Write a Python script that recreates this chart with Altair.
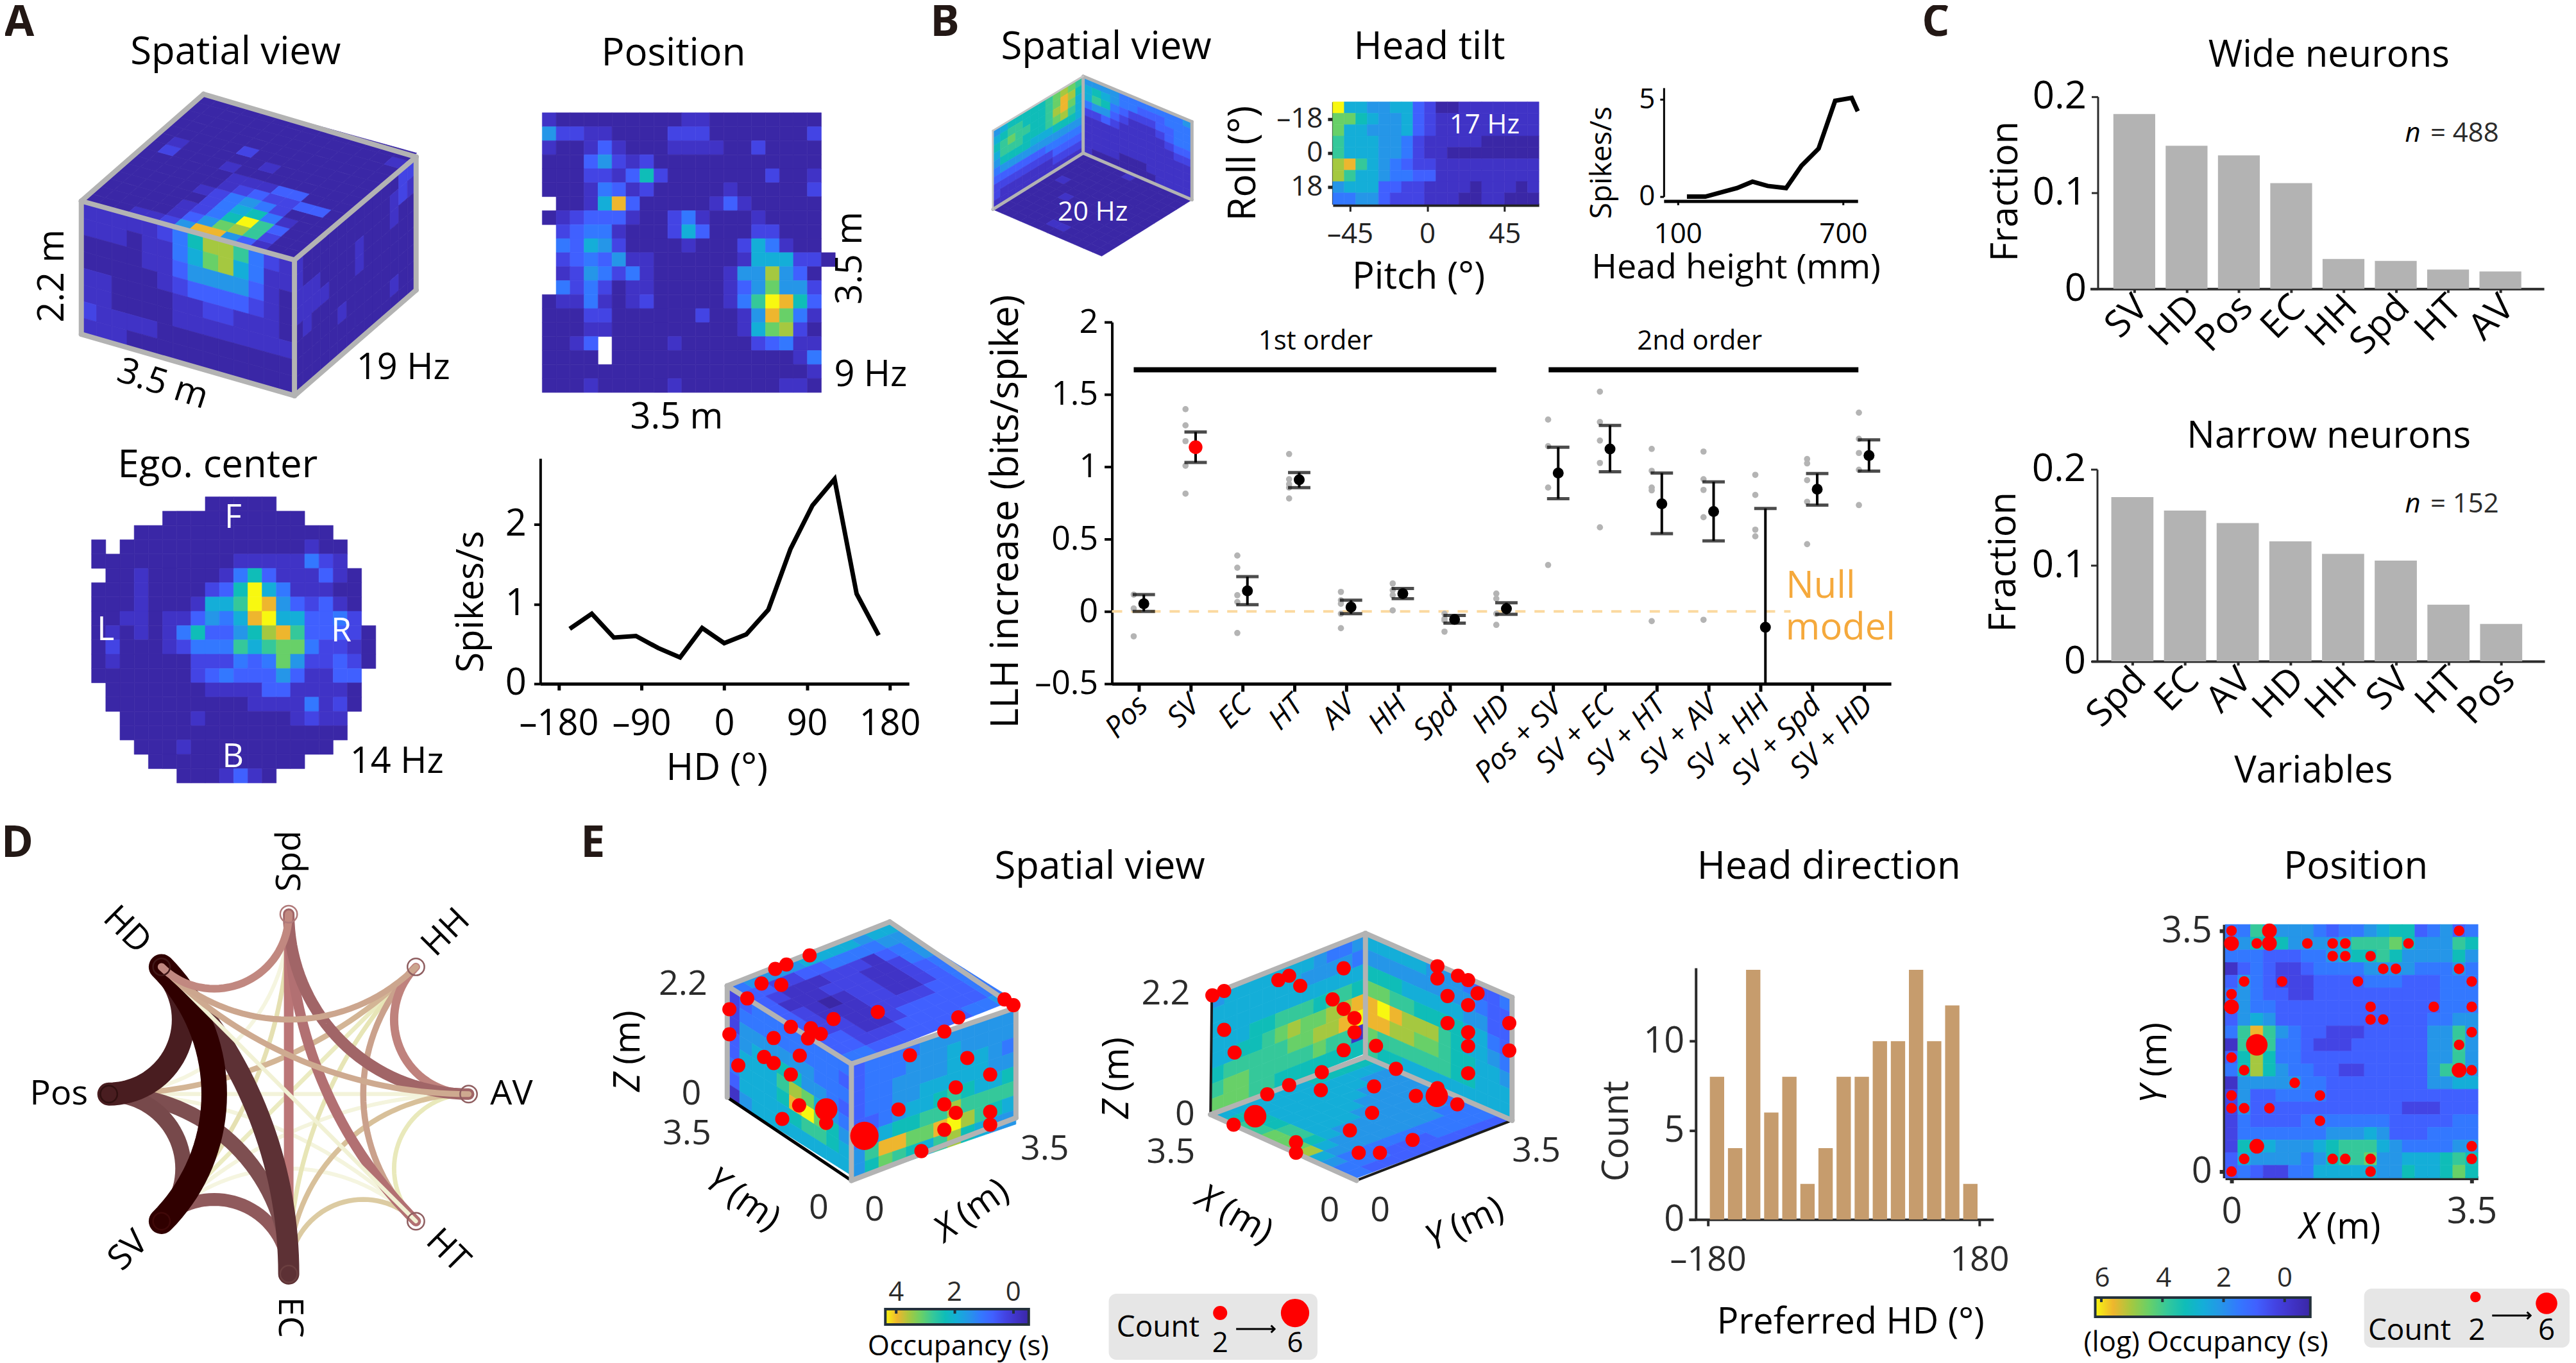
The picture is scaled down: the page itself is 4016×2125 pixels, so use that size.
import math
import altair as alt

W, H = 4008, 2117
FONT = "Open Sans"
PARULA_D = list(range(13))
PARULA_R = ["#3a27a6", "#4033c6", "#4344e4", "#4060ff", "#3378ff", "#2596e8", "#14aed8",
            "#0fbdb8", "#35c89a", "#68d068", "#a5c840", "#eeb62e", "#f8f810"]
PARULA = alt.Scale(domain=PARULA_D, range=PARULA_R, interpolate="rgb")

# ---------- heatmap values (hex level per cell, '.' = no data) ----------
pos_a = ["10000000001100000000", "52211000022200000002", "10013100011110020000", "00035212000000000000",
         "00022137200000002001", "00014312000001000002", ".0016b30000013100000", "01233310024100010000",
         ".2344100026300022000", ".4365200001000264100", ".23435110000001666220", ".125424100000155a530",
         ".424201100000135 9552".replace(" ", ""), "0114101200000148cb73", "0002200000020015b941", "00011000000000169a20",
         "0013.000010000023411", "0000.000000000000014", "00000000000000000001", "00010000010000000110"]
ego = ["........00000.......", ".....0000000000.....", "...00000000000000...", "0.0000000000000100..",
       "000000000011111421..", ".001000001473111310.", "00010000237c6411100.", "00010001668cb532310.",
       "001101135 46bc663342".replace(" ", "")[:19] + ".", "01010147335 7ab83332".replace(" ", "")[:19] + "0", "02000124448689942210", "01000002224349522320",
       "0000000234333531133.", ".000000011113311110.", ".000000000011114120.", "..00000100000012 11..".replace(" ", ""),
       "..0000000000000000..", "...00010000000000...", "....00000000000.....", "......0001310......."]
tilt = ["c66556632001111111", "997655632111111111", "966555632111111111", "866655421111100000",
        "866655421100000000", "ab8654322111111111", "a86654433111111111", "566633221111011101", "445532221110011000"]
pos_e = ["44865554344567734534", "55777555568889755587", "44433344567787555575", "13432234444555544454",
         "35432223333444333444", "45433223333333333444", "45443333333333333444", "35653333333333334455",
         "48b85433222333335585", "18a84432223333335585", "37a74433333333335585", "47a75443322333335885",
         "15555544333333335566", "25334444333333333333", "25333333333333222333", "24333344444443333344",
         "24444444555653334444", "27665556788865444455", "36555545788955666787", "34322446666655766797"]

cube_a_left = ["1111124 7aa8421".replace(" ", ""), "11101146 9a6411".replace(" ", ""), "00001135555310", "00000123333210",
               "11000011221110", "11000011111111", "21111000000000", "11100000000000"]
cube_a_right = ["10000000000022", "10000000000121", "11100001000100", "11110001000000",
                "01000000000000", "00000100000000", "00000000000100", "00000000000000"]
cube_a_top = ["0001125bb53100", "0000013 59a8200".replace(" ", ""), "000001247c8300", "00000024674100",
              "00000124542000", "00000012322330", "00000011133000", "02000100000000",
              "01000001000000", "00000200000000", "00000000000000", "00000000000000",
              "00000000000001", "00000000000000"]
cube_b_left = ["56777778 9a98".replace(" ", ""), "678877789ba7", "78988778ab96", "688877789a86",
               "577776667776", "455555555555", "333333344444", "222222223333", "211111112222", "111111111111"]
cube_b_right = ["555544444445", "676544333444", "687432223344", "455321112344",
                "223211111233", "111111111122", "111111111111", "111111111111", "111100011111", "100000001111"]
cube_b_floor = ["000000000000", "000010000000", "000000000000", "000000100000", "000000000000", "100000000010",
                "000000000010", "000000000000", "000000000000", "000000000000", "000000000000", "000000000000"]
cube_e1_left = ["2344444444", "2444444443", "2555555444", "3566775543",
                "36668a9654", "46667bc975", "3666678876", "1566666666"]
cube_e1_right = ["344445555555", "344455565555", "344555566654", "344556666655",
                 "334566787667", "44677 88a8888".replace(" ", ""), "58bb99bca876", "5798768a7655"]
cube_e1_top = ["455556666566", "332233444455", "321112221345", "311122211245", "321012211234",
               "321112211234", "322112222334", "332112333334", "332223333334", "443333333445"]
cube_e2_left = ["566666665445", "666666655554", "666666666666", "666778887887",
                "667789a99aab", "78888899aabc", "899888889881", "999887777777"]
cube_e2_right = ["666665554334", "555555555433", "777666665533", "998877776643",
                 "bcbaaa876654", "bbaa99877665", "988888877666", "877666666666"]
cube_e2_floor = ["7777666666", "6666666677", "5566666678", "5556666678", "5555666689", "5555566689",
                 "5555555679", "455555556a", "4455555556", "4444444445", "4444333444", "3333333334"]

# ---------- line / scatter values ----------
hd_x = [-168, -144, -120, -96, -72, -48, -24, 0, 24, 48, 72, 96, 120, 144, 168]
hd_y = [.69, .88, .58, .60, .45, .33, .70, .51, .62, .93, 1.69, 2.24, 2.57, 1.13, .61]
hh_x = [133, 200, 270, 315, 371, 426, 493, 549, 611, 671, 731, 753]
hh_y = [0, 0, .27, .44, .77, .55, .44, 1.59, 2.47, 4.93, 5.08, 4.39]

model_names = ["Pos", "SV", "EC", "HT", "AV", "HH", "Spd", "HD", "Pos + SV", "SV + EC", "SV + HT",
               "SV + AV", "SV + HH", "SV + Spd", "SV + HD"]
model_mean = [.053, 1.135, .142, .91, .03, .123, -.056, .019, .956, 1.123, .744, .69, -.11, .844, 1.077]
model_hi = [.116, 1.24, .24, .96, .077, .158, -.028, .06, 1.135, 1.286, .956, .895, .712, .953, 1.186]
model_lo = [0, 1.03, .046, .856, -.016, .088, -.081, -.02, .779, .965, .537, .488, -.5, .735, .97]
model_pts = [[.116, .02, -.172], [1.398, 1.286, 1.177, 1.007, .814], [.386, .302, .112, .065, -.149],
             [1.088, .914, .879, .856, .781], [.135, .077, .053, -.016, -.116], [.193, .147, .112, .007],
             [-.016, -.051, -.063, -.14], [.123, .088, -.016, -.093], [1.326, 1.142, .856, .321],
             [1.519, 1.309, 1.181, 1.026, .581], [1.123, .972, .856, .837, -.067],
             [1.105, .914, .84, .651, -.058], [.944, .805, .565, .519], [1.053, 1.023, .907, .758, .465],
             [1.374, 1.193, 1.095, .979, .735]]

wide_names = ["SV", "HD", "Pos", "EC", "HH", "Spd", "HT", "AV"]
wide_vals = [.182, .149, .139, .110, .031, .029, .020, .018]
narrow_names = ["Spd", "EC", "AV", "HD", "HH", "SV", "HT", "Pos"]
narrow_vals = [.171, .157, .144, .125, .112, .105, .059, .039]

hist_counts = [8, 4, 14, 6, 8, 2, 4, 8, 8, 10, 10, 14, 10, 12, 2]
hist_centers = [-168, -144, -120, -96, -72, -48, -24, 0, 24, 48, 72, 96, 120, 144, 168]

graph_nodes = ["Spd", "HH", "AV", "HT", "EC", "SV", "Pos", "HD"]
# listed in drawing order, last on top
graph_edges = [("Pos", "Spd", .02), ("SV", "HT", .02), ("Pos", "HT", .03), ("SV", "AV", .03), ("Pos", "AV", .04),
               ("HH", "SV", .12), ("AV", "HT", .14), ("HH", "EC", .16), ("Spd", "SV", .18), ("HT", "EC", .26),
               ("AV", "EC", .30), ("HH", "Pos", .36), ("HH", "HT", .46), ("HH", "AV", .56), ("Spd", "EC", .60),
               ("Spd", "HT", .62), ("Spd", "AV", .66), ("SV", "EC", .70), ("Pos", "EC", .74), ("Pos", "SV", .76),
               ("EC", "HD", .85), ("Pos", "HD", .92), ("HD", "SV", 1.0),
               ("HD", "HT", .06), ("AV", "HD", .42), ("HH", "HD", .44), ("Spd", "HD", .54)]
graph_node_color = ["#b07a7a", "#8f5e60", "#8f5e60", "#8f5e60", "#6b3f40", "#400808", "#301010", "#401818"]

# red dots: view units of the reference panel, and count
e1_dots = [(693, 360), (620, 387), (585, 400), (542, 443), (604, 447), (497, 487), (441, 519), (441, 593), (469, 685),
           (634, 571), (580, 604), (697, 575), (728, 592), (688, 605), (768, 548), (907, 527), (662, 656), (550, 660),
           (580, 678), (634, 712), (660, 803), (607, 843), (745, 855), (1008, 655), (1188, 663), (1260, 712), (1116, 585),
           (1160, 543), (1305, 490), (1333, 507), (1152, 750), (1116, 800), (1152, 825), (1260, 822), (1260, 860),
           (1116, 875), (972, 815), (1044, 938)]
e1_big = [(745, 815, 4), (865, 893, 6)]
e2_dots = [(380, 478), (416, 465), (582, 433), (615, 420), (649, 450), (782, 398), (748, 490), (782, 518), (815, 545),
           (815, 587), (782, 640), (881, 627), (416, 580), (448, 647), (715, 705), (615, 743), (548, 770), (712, 758),
           (875, 747), (942, 695), (869, 825), (801, 877), (828, 943), (893, 943), (993, 905), (1003, 775), (1130, 800),
           (1069, 752), (445, 860), (636, 912), (636, 943), (1069, 392), (1069, 428), (1132, 420), (1163, 433), (1192, 472),
           (1100, 480), (1163, 507), (1100, 560), (1163, 587), (1163, 628), (1163, 708), (1289, 560), (1289, 641)]
e2_big = [(511, 835, 4), (1067, 775, 4)]
pos_dots = [(0, 0, 2), (3, 0, 3), (18, 0, 2), (0, 1, 3), (2, 1, 2), (3, 1, 3), (6, 1, 2), (8, 1, 2), (9, 1, 2), (14, 1, 2),
            (8, 2, 2), (9, 2, 2), (11, 2, 2), (12, 3, 2), (13, 3, 2), (18, 3, 2), (1, 4, 2), (4, 4, 2), (10, 4, 2), (19, 4, 2),
            (0, 5, 2), (0, 6, 3), (11, 6, 2), (16, 6, 2), (19, 6, 2), (11, 7, 2), (12, 7, 2), (19, 8, 2), (2, 9, 4), (18, 9, 2),
            (0, 10, 2), (1, 11, 2), (18, 11, 3), (19, 11, 2), (5, 12, 2), (0, 13, 2), (7, 13, 2), (0, 14, 2), (1, 14, 2), (3, 14, 2),
            (7, 15, 2), (2, 17, 3), (19, 17, 2), (1, 18, 2), (8, 18, 2), (9, 18, 2), (11, 18, 2), (19, 18, 2), (0, 19, 2), (11, 19, 2)]

# ---------- texts: text, x, y, size, angle, colour ----------
DK = "#2b2b2b"
texts = [
    ("Spatial view", 368, 80, 60, 0, "black"), ("19 Hz", 630, 573, 56, 0, "black"), ("2.2 m", 82, 429, 56, -90, "black"),
    ("3.5 m", 254, 598, 56, 18, "black"), ("Position", 1052, 82, 60, 0, "black"), ("3.5 m", 1329, 401, 56, -90, "black"),
    ("9 Hz", 1360, 584, 56, 0, "black"), ("3.5 m", 1057, 650, 56, 0, "black"), ("Ego. center", 340, 725, 60, 0, "black"),
    ("14 Hz", 620, 1188, 56, 0, "black"), ("F", 364, 807, 52, 0, "white"), ("L", 165, 982, 52, 0, "white"),
    ("R", 533, 984, 52, 0, "white"), ("B", 364, 1180, 52, 0, "white"), ("Spikes/s", 737, 938, 58, -90, "black"),
    ("HD (°)", 1120, 1199, 58, 0, "black"), ("Spatial view", 1728, 72, 60, 0, "black"), ("Head tilt", 2233, 72, 60, 0, "black"),
    ("20 Hz", 1707, 330, 42, 0, "white"), ("17 Hz", 2319, 193, 42, 0, "white"), ("Roll (°)", 1943, 253, 60, -90, "black"),
    ("Pitch (°)", 2216, 432, 58, 0, "black"), ("Spikes/s", 2503, 252, 46, -90, "black"), ("Head height (mm)", 2712, 417, 54, 0, "black"),
    ("LLH increase (bits/spike)", 1572, 797, 60, -90, "black"), ("1st order", 2055, 531, 42, 0, "black"), ("2nd order", 2655, 531, 42, 0, "black"),
    ("Wide neurons", 3638, 85, 58, 0, "black"), ("Fraction", 3134, 297, 58, -90, "black"), ("Narrow neurons", 3638, 680, 58, 0, "black"),
    ("Fraction", 3131, 876, 58, -90, "black"), ("Variables", 3614, 1203, 58, 0, "black"),
    ("Spd", 453, 1343, 54, -90, "black"), ("HH", 697, 1455, 54, -45, "black"), ("AV", 799, 1707, 54, 0, "black"),
    ("HT", 699, 1952, 54, 45, "black"), ("EC", 452, 2056, 54, 90, "black"), ("SV", 201, 1952, 54, -45, "black"),
    ("Pos", 92, 1707, 54, 0, "black"), ("HD", 198, 1451, 54, 45, "black"),
    ("Spatial view", 1718, 1353, 60, 0, "black"), ("Head direction", 2857, 1353, 60, 0, "black"), ("Position", 3680, 1353, 60, 0, "black"),
    ("2.2", 1067, 1536, 54, 0, DK), ("0", 1080, 1707, 54, 0, DK), ("3.5", 1073, 1769, 54, 0, DK), ("0", 1279, 1886, 54, 0, DK),
    ("0", 1366, 1889, 54, 0, DK), ("3.5", 1632, 1793, 54, 0, DK),
    ("2.2", 1821, 1551, 54, 0, DK), ("0", 1851, 1739, 54, 0, DK), ("3.5", 1829, 1798, 54, 0, DK), ("0", 2077, 1890, 54, 0, DK),
    ("0", 2156, 1890, 54, 0, DK), ("3.5", 2400, 1796, 54, 0, DK),
    ("4", 1400, 2017, 42, 0, DK), ("2", 1491, 2017, 42, 0, DK), ("0", 1583, 2017, 42, 0, DK), ("Occupancy (s)", 1497, 2102, 44, 0, "black"),
    ("Count", 1809, 2072, 46, 0, "black"), ("2", 1906, 2097, 44, 0, "black"), ("6", 2023, 2097, 44, 0, "black"),
    ("Count", 3764, 2077, 46, 0, "black"), ("2", 3869, 2077, 46, 0, "black"), ("6", 3978, 2077, 46, 0, "black"),
    ("Preferred HD (°)", 2891, 2064, 56, 0, "black"),
    ("6", 3284, 1995, 42, 0, DK), ("4", 3380, 1995, 42, 0, DK), ("2", 3474, 1995, 42, 0, DK), ("0", 3569, 1995, 42, 0, DK),
    ("(log) Occupancy (s)", 3446, 2096, 44, 0, "black"), ("Count", 2526, 1765, 56, -90, DK),
    ("Null", 2844, 915, 58, 0, "#f5a93c"), ("model", 2875, 980, 58, 0, "#f5a93c"),
    ("= 488", 3850, 206, 42, 0, DK), ("= 152", 3850, 785, 42, 0, DK),
]
italic_texts = [("n", 3769, 206, 42, 0, "black"), ("n", 3769, 785, 42, 0, "black")]
bold_texts = [("A", 30, 34, 68, 0, "#231815"), ("B", 1476, 34, 68, 0, "#231815"), ("C", 3024, 34, 68, 0, "#231815"),
              ("D", 27, 1317, 68, 0, "#231815"), ("E", 926, 1317, 68, 0, "#231815")]
axis_words = [("Z", " (m)", 982, 1641, 56, -90), ("Y", " (m)", 1159, 1871, 56, 35), ("X", " (m)", 1517, 1890, 56, -35),
              ("Z", " (m)", 1746, 1683, 56, -90), ("X", " (m)", 1927, 1895, 56, 30), ("Y", " (m)", 2287, 1911, 56, -25),
              ("Y", " (m)", 3367, 1660, 56, -90), ("X", " (m)", 3654, 1916, 56, 0)]
for it, rest, cx, cy, s, a in axis_words:
    c, si = math.cos(math.radians(a)), math.sin(math.radians(a))
    italic_texts.append((it, cx - 0.85 * s * c, cy - 0.85 * s * si, s, a, "black"))
    texts.append((rest.strip(), cx + 0.4 * s * c, cy + 0.4 * s * si, s, a, "black"))


# ---------- helpers ----------
def lv(s):
    return [None if ch == "." else int(ch, 16) for ch in s]


FX = alt.Scale(domain=[0, 4016], range=[-8, 4008], nice=False, zero=False)
FY = alt.Scale(domain=[0, 2125], range=[-8, 2117], nice=False, zero=False)


def sx(dom, a, b):
    return alt.Scale(domain=dom, range=[a - 8, b - 8], nice=False, zero=False)


def sy(dom, bottom, top):
    return alt.Scale(domain=dom, range=[bottom - 8, top - 8], nice=False, zero=False)


def ax(orient, pos, values, size=54, w=4, tick=10, pad=8, color="black", expr=None, **kw):
    off = (pos - 8 - H) if orient == "bottom" else -(pos - 8)
    args = dict(orient=orient, offset=off, values=values, title=None, grid=False, domainColor=color, domainWidth=w,
                tickColor=color, tickWidth=w, tickSize=tick, labelPadding=pad, labelColor=color, labelFont=FONT,
                labelFontSize=size, labelOverlap=False, labelFlush=False, labelBound=False,
                labelExpr=expr or "datum.value<0?'–'+(-datum.value):''+datum.value")
    args.update(kw)
    return alt.Axis(**args)


def axes_only(xs, ys, xa, ya):
    row = [{"a": xs.to_dict()["domain"][0], "b": ys.to_dict()["domain"][0]}]
    return alt.Chart(alt.Data(values=row)).mark_point(opacity=0).encode(
        x=alt.X("a:Q", scale=xs, axis=xa), y=alt.Y("b:Q", scale=ys, axis=ya))


def heat(rows, left, right, top, bottom, sw=0.6):
    ncol = len(rows[0])
    data = []
    for r, s in enumerate(rows):
        for c, v in enumerate(lv(s)):
            if v is not None:
                data.append({"c0": c, "c1": c + 1, "r0": r, "r1": r + 1, "v": v})
    return alt.Chart(alt.Data(values=data)).mark_rect(strokeWidth=sw).encode(
        x=alt.X("c0:Q", scale=sx([0, ncol], left, right), axis=None), x2="c1:Q",
        y=alt.Y("r0:Q", scale=sy([len(rows), 0], bottom, top), axis=None), y2="r1:Q",
        color=alt.Color("v:Q", scale=PARULA, legend=None), stroke=alt.Stroke("v:Q", scale=PARULA, legend=None))


def quad(P, v, cid):
    xs = sorted(p[0] for p in P)
    uniq = []
    for x in xs:
        if not uniq or abs(x - uniq[-1]) > 1e-6:
            uniq.append(x)
    out = []
    for x in uniq:
        ys = []
        for i in range(4):
            a, b = P[i], P[(i + 1) % 4]
            if min(a[0], b[0]) - 1e-6 <= x <= max(a[0], b[0]) + 1e-6:
                if abs(a[0] - b[0]) < 1e-6:
                    ys += [a[1], b[1]]
                else:
                    ys.append(a[1] + (b[1] - a[1]) * (x - a[0]) / (b[0] - a[0]))
        out.append({"x": x, "y": min(ys), "y2": max(ys), "v": v, "id": cid})
    return out


face_counter = [0]


def face(P00, P10, P01, rows):
    face_counter[0] += 1
    out = []
    nr, nc = len(rows), len(rows[0])

    def pt(c, r):
        return (P00[0] + (P10[0] - P00[0]) * c / nc + (P01[0] - P00[0]) * r / nr,
                P00[1] + (P10[1] - P00[1]) * c / nc + (P01[1] - P00[1]) * r / nr)

    for r, s in enumerate(rows):
        for c, v in enumerate(lv(s)):
            out += quad([pt(c, r), pt(c + 1, r), pt(c + 1, r + 1), pt(c, r + 1)], v, f"{face_counter[0]}_{r}_{c}")
    return out


def segs(pairs, color, width):
    data = []
    for i, (a, b) in enumerate(pairs):
        data += [{"x": a[0], "y": a[1], "id": i, "k": 0}, {"x": b[0], "y": b[1], "id": i, "k": 1}]
    return alt.Chart(alt.Data(values=data)).mark_line(color=color, strokeWidth=width, strokeCap="round").encode(
        x=alt.X("x:Q", scale=FX, axis=None), y=alt.Y("y:Q", scale=FY, axis=None), detail="id:N", order="k:Q")


def text_layer(items, **mk):
    data = [{"t": t, "x": x, "y": y, "s": s, "a": a, "c": c} for t, x, y, s, a, c in items]
    return alt.Chart(alt.Data(values=data)).mark_text(font=FONT, align="center", baseline="middle", **mk).encode(
        x=alt.X("x:Q", scale=FX, axis=None), y=alt.Y("y:Q", scale=FY, axis=None), text="t:N",
        size=alt.Size("s:Q", scale=None, legend=None), angle=alt.Angle("a:Q", scale=None),
        color=alt.Color("c:N", scale=None, legend=None))


layers = []

# ---------- cubes ----------
A = dict(L=(127, 312), B=(318, 145), R=(650, 243), F=(460, 404), Lb=(127, 520), Fb=(460, 616), Rb=(650, 451))
Bc = dict(T=(1692, 117), L=(1551, 202), R=(1862, 188), C=(1692, 237), Lb=(1551, 325), Rb=(1862, 310), Fb=(1723, 397))
E1 = dict(TL=(1136, 1538), Bk=(1390, 1438), TR=(1587, 1572), TF=(1330, 1660), BL=(1136, 1712), BF=(1330, 1842), BR=(1587, 1744))
E2 = dict(T=(2133, 1456), L=(1893, 1551), R=(2362, 1556), C=(2133, 1649), Lb=(1891, 1739), Rb=(2362, 1748), Fb=(2119, 1842))

cells = []
cells += face(A["L"], A["F"], A["B"], cube_a_top)
cells += face(A["L"], A["F"], A["Lb"], cube_a_left)
cells += face(A["F"], A["R"], A["Fb"], cube_a_right)
cells += face(Bc["L"], Bc["T"], Bc["Lb"], cube_b_left)
cells += face(Bc["T"], Bc["R"], Bc["C"], cube_b_right)
cells += face(Bc["C"], Bc["Lb"], Bc["Rb"], cube_b_floor)
cells += face(E1["TL"], E1["Bk"], E1["TF"], cube_e1_top)
cells += face(E1["TL"], E1["TF"], E1["BL"], cube_e1_left)
cells += face(E1["TF"], E1["TR"], E1["BF"], cube_e1_right)
cells += face(E2["L"], E2["T"], E2["Lb"], cube_e2_left)
cells += face(E2["T"], E2["R"], E2["C"], cube_e2_right)
cells += face(E2["C"], E2["Lb"], E2["Rb"], cube_e2_floor)
layers.append(alt.Chart(alt.Data(values=cells)).mark_area(strokeWidth=0.7).encode(
    x=alt.X("x:Q", scale=FX, axis=None), y=alt.Y("y:Q", scale=FY, axis=None, stack=None), y2="y2:Q",
    color=alt.Color("v:Q", scale=PARULA, legend=None), stroke=alt.Stroke("v:Q", scale=PARULA, legend=None), detail="id:N"))

GR = "#b3b3b3"
layers.append(segs([(A["L"], A["B"]), (A["B"], A["R"]), (A["R"], A["F"]), (A["F"], A["L"]), (A["L"], A["Lb"]),
                    (A["Lb"], A["Fb"]), (A["Fb"], A["Rb"]), (A["Rb"], A["R"]), (A["F"], A["Fb"])], GR, 8))
layers.append(segs([(Bc["T"], Bc["C"]), (Bc["C"], Bc["Lb"]), (Bc["C"], Bc["Rb"]), (Bc["T"], Bc["R"]), (Bc["R"], Bc["Rb"])], GR, 5))
layers.append(segs([(Bc["L"], Bc["Lb"]), (Bc["T"], Bc["L"])], "#c4c4c4", 3))
layers.append(segs([(E1["BL"], E1["BF"])], "black", 5))
layers.append(segs([(E1["TL"], E1["Bk"]), (E1["Bk"], E1["TR"]), (E1["TR"], E1["TF"]), (E1["TF"], E1["TL"]), (E1["TL"], E1["BL"]),
                    (E1["TF"], E1["BF"]), (E1["TR"], E1["BR"]), (E1["BF"], E1["BR"])], GR, 8))
layers.append(segs([(E2["L"], E2["Lb"]), (E2["Rb"], E2["Fb"])], "#1c1c1c", 4))
layers.append(segs([(E2["L"], E2["T"]), (E2["T"], E2["R"]), (E2["T"], E2["C"]), (E2["C"], E2["Lb"]), (E2["C"], E2["Rb"]),
                    (E2["R"], E2["Rb"]), (E2["Lb"], E2["Fb"])], GR, 8))

SIZE26 = alt.Scale(domain=[2, 6], range=[490, 1963], zero=False)


def view_dots(dots, big, x0, span):
    data = [{"x": x, "y": y, "n": 2} for x, y in dots] + [{"x": x, "y": y, "n": n} for x, y, n in big]
    return alt.Chart(alt.Data(values=data)).mark_circle(color="#ff0000", opacity=1).encode(
        x=alt.X("x:Q", scale=sx([0, 1568], x0, x0 + span), axis=None),
        y=alt.Y("y:Q", scale=sy([0, 1560], 1300, 2125), axis=None),
        size=alt.Size("n:Q", scale=SIZE26, legend=None))


layers.append(view_dots(e1_dots, e1_big, 920, 780))
layers.append(view_dots(e2_dots, e2_big, 1700, 800))

# ---------- flat heatmaps ----------
layers.append(heat(pos_a, 847, 1283, 174, 611))
layers.append(heat(ego, 143, 587, 774, 1221))
layers.append(heat(tilt, 2082, 2404, 157, 317))
layers.append(axes_only(sx([-55, 65], 2082, 2404), sy([27, -27], 317, 157),
                        ax("bottom", 318, [-45, 0, 45], size=44, w=5, tick=10, pad=14, tickWidth=3, color="#222222"),
                        ax("left", 2082, [-18, 0, 18], size=44, w=3, tick=8, pad=8, tickWidth=5, color="#222222")))
layers.append(heat(pos_e, 3476, 3871, 1442, 1838))
layers.append(axes_only(sx([-0.0921, 3.5921], 3476, 3871), sy([-0.0921, 3.5921], 1838, 1442),
                        ax("bottom", 1838, [0, 3.5], color=DK, w=6, tick=8, pad=18, size=56),
                        ax("left", 3475, [0, 3.5], color=DK, w=6, tick=8, pad=12, size=56)))
pos_data = [{"c": c + .5, "r": r + .5, "n": n} for c, r, n in pos_dots]
layers.append(alt.Chart(alt.Data(values=pos_data)).mark_circle(color="#ff0000", opacity=1).encode(
    x=alt.X("c:Q", scale=sx([0, 20], 3476, 3871), axis=None),
    y=alt.Y("r:Q", scale=sy([20, 0], 1838, 1442), axis=None),
    size=alt.Size("n:Q", scale=alt.Scale(domain=[2, 3, 4], range=[272, 531, 1134], zero=False), legend=None)))

# ---------- HD tuning ----------
xs_hd = sx([-200, 201], 844, 1420)
ys_hd = sy([0, 2.83], 1066, 714)
layers.append(alt.Chart(alt.Data(values=[{"x": a, "y": b} for a, b in zip(hd_x, hd_y)])).mark_line(color="black", strokeWidth=7).encode(
    x=alt.X("x:Q", scale=xs_hd, axis=ax("bottom", 1066, [-180, -90, 0, 90, 180], size=56, w=5, tick=10, pad=26)),
    y=alt.Y("y:Q", scale=ys_hd, axis=ax("left", 844, [0, 1, 2], size=58, w=4, tick=10, pad=12))))

# ---------- head height ----------
xs_hh = sx([49, 753], 2599, 2902)
ys_hh = sy([0, 5.6], 305, 135)
layers.append(alt.Chart(alt.Data(values=[{"x": a, "y": b} for a, b in zip(hh_x, hh_y)])).mark_line(color="black", strokeWidth=7).encode(
    x=alt.X("x:Q", scale=xs_hh, axis=ax("bottom", 312, [100, 700], size=44, w=5, tick=6, pad=24, tickWidth=3)),
    y=alt.Y("y:Q", scale=ys_hh, axis=ax("left", 2599, [0, 5], size=44, w=3, tick=6, pad=8))))

# ---------- model comparison ----------
xs_m = sx([-0.52, 14.52], 1737, 2954)
ys_m = sy([-.5, 2], 1066, 501)
names_js = "[" + ",".join(f"'{n}'" for n in model_names) + "]"
layers.append(axes_only(xs_m, ys_m,
                        ax("bottom", 1066, list(range(15)), size=46, w=5, tick=12, pad=14, expr=f"{names_js}[datum.value]",
                           labelAngle=315, labelAlign="right", labelBaseline="middle", labelFontStyle="italic", labelOffset=6),
                        ax("left", 1737, [-.5, 0, .5, 1, 1.5, 2], size=52, w=4, tick=12, pad=10)))
M_DOT = -0.1
M_OFF = 0.095
X_M, Y_M = alt.X("x:Q", scale=xs_m, axis=None), alt.Y("y:Q", scale=ys_m, axis=None)
layers.append(alt.Chart(alt.Data(values=[{"x": -0.52, "x2": 12.58, "y": 0}])).mark_rule(color="#fbd9a0", strokeWidth=4, strokeDash=[16, 14]).encode(
    x=X_M, x2="x2:Q", y=Y_M))
pts = [{"x": i + M_DOT, "y": v} for i, vs in enumerate(model_pts) for v in vs]
layers.append(alt.Chart(alt.Data(values=pts)).mark_circle(color="#b4b4b4", size=95, opacity=1).encode(x=X_M, y=Y_M))
errs = [{"x": i + M_OFF, "y": lo, "y2": hi} for i, (lo, hi) in enumerate(zip(model_lo, model_hi))]
layers.append(alt.Chart(alt.Data(values=errs)).mark_rule(color="black", strokeWidth=4).encode(x=X_M, y=Y_M, y2="y2:Q"))
caps = [{"x": i + M_OFF, "y": v} for i, (lo, hi) in enumerate(zip(model_lo, model_hi)) for v in (lo, hi) if v > -.5]
layers.append(alt.Chart(alt.Data(values=caps)).mark_tick(color="black", orient="horizontal", size=35, thickness=5).encode(x=X_M, y=Y_M))
means = [{"x": i + M_OFF, "y": v} for i, v in enumerate(model_mean) if i != 1]
layers.append(alt.Chart(alt.Data(values=means)).mark_circle(color="black", size=290, opacity=1).encode(x=X_M, y=Y_M))
layers.append(alt.Chart(alt.Data(values=[{"x": 1 + M_OFF, "y": model_mean[1]}])).mark_circle(color="#ff0000", size=460, opacity=1).encode(x=X_M, y=Y_M))
layers.append(alt.Chart(alt.Data(values=[{"x": -.1, "x2": 6.9, "y": 1.67}, {"x": 7.91, "x2": 13.89, "y": 1.67}])).mark_rule(color="black", strokeWidth=8).encode(
    x=X_M, x2="x2:Q", y=Y_M))


# ---------- fractions ----------
def bars(names, vals, left, right, first, step, y0, y2, axis_x):
    js = "[" + ",".join(f"'{n}'" for n in names) + "]"
    xs = sx([(left - first) / step, (right - first) / step], left, right)
    ys = sy([0, .2], y0, y2)
    data = [{"a": i - .4, "b": i + .4, "v": v, "z": 0} for i, v in enumerate(vals)]
    return [alt.Chart(alt.Data(values=data)).mark_rect(color="#b3b3b3").encode(
        x=alt.X("a:Q", scale=xs, axis=None), x2="b:Q", y=alt.Y("z:Q", scale=ys, axis=None), y2="v:Q"),
        axes_only(xs, ys,
                  ax("bottom", y0, list(range(len(names))), size=58, w=4, tick=6, pad=14, color=DK,
                     expr=f"{js}[datum.value]", labelAngle=315, labelAlign="right", labelBaseline="middle",
                     labelColor="black", labelOffset=12),
                  ax("left", axis_x, [0, .1, .2], size=60, w=3, tick=10, pad=8, color=DK, labelColor="black"))]


layers += bars(wide_names, wide_vals, 3265, 3974, 3334, 81.7, 449, 149, 3277)
layers += bars(narrow_names, narrow_vals, 3267, 3975, 3331, 82.3, 1031, 731, 3276)

# ---------- histogram ----------
xs_h = sx([-205.5, 198.6], 2638, 3114)
ys_h = sy([0, 14.1], 1903, 1510)
layers.append(alt.Chart(alt.Data(values=[{"a": c - 9.5, "b": c + 9.5, "v": v, "z": 0} for c, v in zip(hist_centers, hist_counts)])).mark_rect(color="#c69c6d").encode(
    x=alt.X("a:Q", scale=xs_h, axis=None), x2="b:Q", y=alt.Y("z:Q", scale=ys_h, axis=None), y2="v:Q"))
layers.append(axes_only(xs_h, ys_h, ax("bottom", 1903, [-180, 180], size=54, w=4, tick=10, pad=26, color=DK),
                        ax("left", 2649, [0, 5, 10], size=56, w=4, tick=10, pad=8, color=DK)))

# ---------- graph ----------
GC = (451, 1707)
GR_R = 281
ang = {n: math.radians(-90 + 45 * i) for i, n in enumerate(graph_nodes)}
edge_rows = []
for eid, (a, b, wt) in enumerate(graph_edges):
    ta, tb = ang[a], ang[b]
    pa = (math.cos(ta), math.sin(ta))
    pb = (math.cos(tb), math.sin(tb))
    d = abs((ta - tb + math.pi) % (2 * math.pi) - math.pi)
    if abs(d - math.pi) < 1e-6:
        path = [pa, pb]
    else:
        mx, my = pa[0] + pb[0], pa[1] + pb[1]
        n = math.hypot(mx, my)
        cx, cy = mx / n / math.cos(d / 2), my / n / math.cos(d / 2)
        r = math.tan(d / 2)
        t0 = math.atan2(pa[1] - cy, pa[0] - cx)
        t1 = math.atan2(pb[1] - cy, pb[0] - cx)
        dt = (t1 - t0 + math.pi) % (2 * math.pi) - math.pi
        steps = 36
        path = [(cx + r * math.cos(t0 + dt * k / steps), cy + r * math.sin(t0 + dt * k / steps)) for k in range(steps + 1)]
    for k, (u, v) in enumerate(path):
        edge_rows.append({"x": GC[0] + GR_R * u, "y": GC[1] + GR_R * v, "e": eid, "k": k, "w": wt})
layers.append(alt.Chart(alt.Data(values=edge_rows)).mark_line(strokeCap="round").encode(
    x=alt.X("x:Q", scale=FX, axis=None), y=alt.Y("y:Q", scale=FY, axis=None), detail="e:N", order="k:Q",
    color=alt.Color("w:Q", legend=None, scale=alt.Scale(domain=[0, .15, .3, .45, .6, .75, .9, 1],
                    range=["#f7f7e6", "#e8e8b8", "#d8c09a", "#cba48d", "#bb7677", "#7a4c4e", "#4f2428", "#300000"], interpolate="rgb")),
    strokeWidth=alt.StrokeWidth("w:Q", legend=None, scale=alt.Scale(domain=[0, .3, .5, .7, .85, .9, 1], range=[6, 8, 10, 20, 33, 35, 40]))))
node_rows = [{"x": GC[0] + GR_R * math.cos(ang[n]), "y": GC[1] + GR_R * math.sin(ang[n]), "c": c} for n, c in zip(graph_nodes, graph_node_color)]
layers.append(alt.Chart(alt.Data(values=node_rows)).mark_point(size=700, strokeWidth=2.5, filled=False, opacity=1).encode(
    x=alt.X("x:Q", scale=FX, axis=None), y=alt.Y("y:Q", scale=FY, axis=None), stroke=alt.Stroke("c:N", scale=None, legend=None)))

# ---------- colour bars ----------
GRAD = {"gradient": "linear", "x1": 0, "x2": 1, "y1": 0, "y2": 0,
        "stops": [{"offset": i / 12, "color": c} for i, c in enumerate(reversed(PARULA_R))]}


def colorbar(dom, left, right, top, bottom, ticks):
    xs = sx(dom, left, right)
    data = [{"a": dom[0], "b": dom[1], "t": top, "u": bottom}]
    return [alt.Chart(alt.Data(values=data)).mark_rect(fill=GRAD, stroke="#24313c", strokeWidth=4).encode(
        x=alt.X("a:Q", scale=xs, axis=None), x2="b:Q", y=alt.Y("t:Q", scale=FY, axis=None), y2="u:Q"),
        alt.Chart(alt.Data(values=[{"a": v, "t": top, "u": top + 7} for v in ticks])).mark_rule(color="#24313c", strokeWidth=4).encode(
            x=alt.X("a:Q", scale=xs, axis=None), y=alt.Y("t:Q", scale=FY, axis=None), y2="u:Q")]


layers += colorbar([4.37, -0.52], 1383, 1607, 2043, 2067, [4, 2, 0])
layers += colorbar([6.2, -0.84], 3273, 3609, 2025, 2055, [6, 4, 2, 0])


# ---------- count keys ----------
def count_key(x0, x1, y0, y1, dots, arrow, size_scale):
    return [alt.Chart(alt.Data(values=[{"a": x0, "b": x1, "t": y0, "u": y1}])).mark_rect(color="#e6e6e6", cornerRadius=12).encode(
        x=alt.X("a:Q", scale=FX, axis=None), x2="b:Q", y=alt.Y("t:Q", scale=FY, axis=None), y2="u:Q"),
        alt.Chart(alt.Data(values=[{"x": x, "y": y, "n": n} for x, y, n in dots])).mark_circle(color="#ff0000", opacity=1).encode(
            x=alt.X("x:Q", scale=FX, axis=None), y=alt.Y("y:Q", scale=FY, axis=None), size=alt.Size("n:Q", scale=size_scale, legend=None)),
        alt.Chart(alt.Data(values=[{"x": arrow[0], "x2": arrow[1], "y": arrow[2]}])).mark_rule(color="black", strokeWidth=3).encode(
            x=alt.X("x:Q", scale=FX, axis=None), x2="x2:Q", y=alt.Y("y:Q", scale=FY, axis=None)),
        alt.Chart(alt.Data(values=[{"x": arrow[1], "y": arrow[2]}])).mark_point(shape="M-1,-1L0,0L-1,1", color="black", strokeWidth=3, size=120, opacity=1).encode(
            x=alt.X("x:Q", scale=FX, axis=None), y=alt.Y("y:Q", scale=FY, axis=None))]


layers += count_key(1732, 2058, 2019, 2122, [(1906, 2049, 2), (2023, 2049, 6)], (1931, 1991, 2074), SIZE26)
layers += count_key(3693, 4014, 2011, 2103, [(3867, 2024, 2), (3978, 2034, 6)], (3893, 3953, 2053),
                    alt.Scale(domain=[2, 6], range=[272, 1134], zero=False))

# ---------- texts ----------
layers.append(text_layer(texts))
layers.append(text_layer(italic_texts, fontStyle="italic"))
layers.append(text_layer(bold_texts, fontWeight="bold"))

chart = alt.layer(*layers).resolve_scale(
    x="independent", y="independent", color="independent", size="independent", stroke="independent",
    strokeWidth="independent", angle="independent"
).resolve_axis(x="independent", y="independent").properties(
    width=W, height=H, autosize=alt.AutoSizeParams(type="none"), padding=0
).configure_view(strokeWidth=0)

chart.save("out.html", embed_options={"renderer": "svg", "actions": False})
